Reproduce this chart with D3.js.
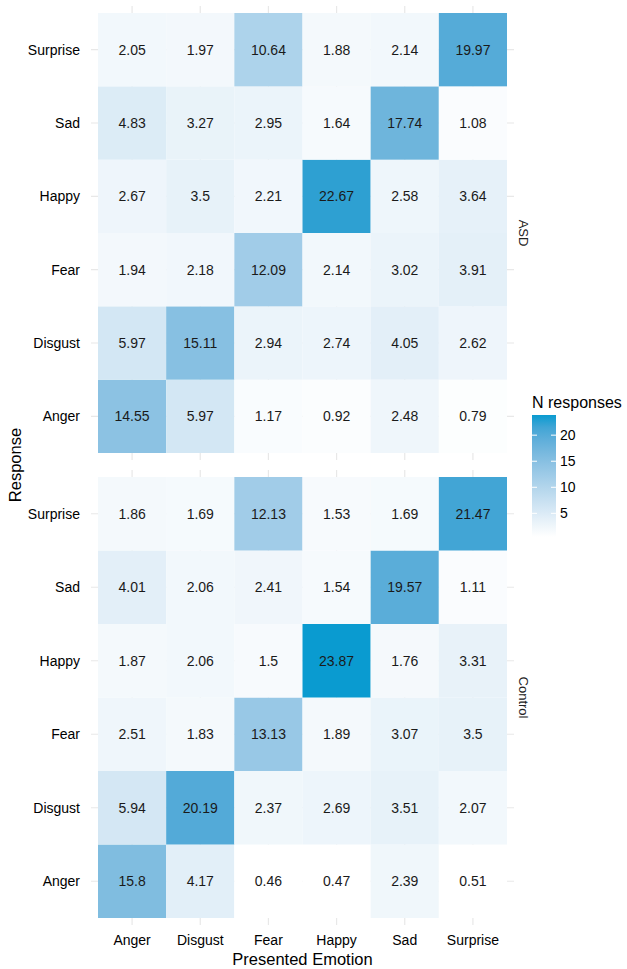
<!DOCTYPE html>
<html>
<head>
<meta charset="utf-8">
<script src="https://cdn.jsdelivr.net/npm/d3@7"></script>
<style>
  body { margin: 0; background: #fff; }
  text { font-family: "Liberation Sans", Arial, sans-serif; }
</style>
</head>
<body>
<svg id="chart" width="627" height="969"></svg>
<script>
// Presented emotion (columns) and response (rows)
const emotions = ["Anger", "Disgust", "Fear", "Happy", "Sad", "Surprise"];
const groups = ["ASD", "Control"];
const legendTicks = [5, 10, 15, 20];

// rows listed by response, values in column order
const asdValues = {
    Anger:    [14.55, 5.97, 1.17, 0.92, 2.48, 0.79],
    Disgust:  [5.97, 15.11, 2.94, 2.74, 4.05, 2.62],
    Fear:     [1.94, 2.18, 12.09, 2.14, 3.02, 3.91],
    Happy:    [2.67, 3.5, 2.21, 22.67, 2.58, 3.64],
    Sad:      [4.83, 3.27, 2.95, 1.64, 17.74, 1.08],
    Surprise: [2.05, 1.97, 10.64, 1.88, 2.14, 19.97]
};
const controlValues = {
    Anger:    [15.8, 4.17, 0.46, 0.47, 2.39, 0.51],
    Disgust:  [5.94, 20.19, 2.37, 2.69, 3.51, 2.07],
    Fear:     [2.51, 1.83, 13.13, 1.89, 3.07, 3.5],
    Happy:    [1.87, 2.06, 1.5, 23.87, 1.76, 3.31],
    Sad:      [4.01, 2.06, 2.41, 1.54, 19.57, 1.11],
    Surprise: [1.86, 1.69, 12.13, 1.53, 1.69, 21.47]
};

// flatten into cells
let cells = [];
[asdValues, controlValues].forEach((tbl, gi) => {
    emotions.forEach(resp => {
        tbl[resp].forEach((v, ci) => {
            cells.push({group: groups[gi], response: resp, presented: emotions[ci], value: v});
        });
    });
});

const svg = d3.select("#chart");
const left = 98, right = 507;
const panels = {ASD: [13, 453], Control: [477, 918]};
const ext = 7; // grid lines show past the tiles

const vmin = d3.min(cells, d => d.value), vmax = d3.max(cells, d => d.value);
const color = d3.scaleLinear()
    .domain([vmin, vmax])
    .range(["#ffffff", "#0a9bd0"])
    .interpolate(d3.interpolateLab);

const x = d3.scaleBand().domain(emotions).range([left, right]);

groups.forEach(g => {
    const [top, bottom] = panels[g];
    // Anger at the bottom, Surprise at top
    const y = d3.scaleBand().domain(emotions.slice().reverse()).range([top, bottom]);
    const p = svg.append("g");

    // grid
    p.selectAll(".vgrid").data(emotions).enter().append("line")
        .attr("x1", d => x(d) + x.bandwidth() / 2)
        .attr("x2", d => x(d) + x.bandwidth() / 2)
        .attr("y1", top - ext).attr("y2", bottom + ext)
        .attr("stroke", "#e8e8e8").attr("stroke-width", 1.2);
    p.selectAll(".hgrid").data(emotions).enter().append("line")
        .attr("y1", d => y(d) + y.bandwidth() / 2)
        .attr("y2", d => y(d) + y.bandwidth() / 2)
        .attr("x1", left - ext).attr("x2", right + ext)
        .attr("stroke", "#e8e8e8").attr("stroke-width", 1.2);

    const data = cells.filter(c => c.group === g);
    p.selectAll("rect").data(data).enter().append("rect")
        .attr("x", d => x(d.presented))
        .attr("y", d => y(d.response))
        .attr("width", x.bandwidth())
        .attr("height", y.bandwidth())
        .attr("fill", d => color(d.value));

    p.selectAll(".val").data(data).enter().append("text")
        .attr("x", d => x(d.presented) + x.bandwidth() / 2)
        .attr("y", d => y(d.response) + y.bandwidth() / 2)
        .attr("dy", "0.36em")
        .attr("text-anchor", "middle")
        .attr("font-size", "14px")
        .attr("fill", "#1a1a1a")
        .text(d => d.value);

    // y tick labels
    p.selectAll(".ylab").data(emotions).enter().append("text")
        .attr("x", 80)
        .attr("y", d => y(d) + y.bandwidth() / 2)
        .attr("dy", "0.36em")
        .attr("text-anchor", "end")
        .attr("font-size", "14px")
        .attr("fill", "#000")
        .text(d => d);

    // facet strip label
    p.append("text")
        .attr("transform", "translate(519," + (top + bottom) / 2 + ") rotate(90)")
        .attr("text-anchor", "middle")
        .attr("font-size", "13px")
        .attr("fill", "#222")
        .text(g);
});

// x tick labels
svg.selectAll(".xlab").data(emotions).enter().append("text")
    .attr("x", d => x(d) + x.bandwidth() / 2)
    .attr("y", 945)
    .attr("text-anchor", "middle")
    .attr("font-size", "14px")
    .attr("fill", "#000")
    .text(d => d);

svg.append("text")
    .attr("x", (left + right) / 2).attr("y", 965)
    .attr("text-anchor", "middle")
    .attr("font-size", "16.5px")
    .text("Presented Emotion");

svg.append("text")
    .attr("transform", "translate(21,465) rotate(-90)")
    .attr("text-anchor", "middle")
    .attr("font-size", "16.5px")
    .text("Response");

// colour bar legend
const lx = 532, lw = 24, ltop = 415, lbot = 537;
const defs = svg.append("defs");
const grad = defs.append("linearGradient").attr("id", "lg")
    .attr("x1", "0").attr("y1", "1").attr("x2", "0").attr("y2", "0");
d3.range(0, 1.0001, 0.1).forEach(t => {
    grad.append("stop").attr("offset", t)
        .attr("stop-color", color(vmin + t * (vmax - vmin)));
});
svg.append("rect")
    .attr("x", lx).attr("y", ltop).attr("width", lw).attr("height", lbot - ltop)
    .attr("fill", "url(#lg)");

const ly = d3.scaleLinear().domain([vmin, vmax]).range([lbot, ltop]);
const lg = svg.append("g");
legendTicks.forEach(t => {
    lg.append("line").attr("x1", lx).attr("x2", lx + 5)
        .attr("y1", ly(t)).attr("y2", ly(t)).attr("stroke", "#fff");
    lg.append("line").attr("x1", lx + lw - 5).attr("x2", lx + lw)
        .attr("y1", ly(t)).attr("y2", ly(t)).attr("stroke", "#fff");
    lg.append("text").attr("x", lx + lw + 4).attr("y", ly(t))
        .attr("dy", "0.36em")
        .attr("font-size", "14px")
        .attr("fill", "#000")
        .text(t);
});
svg.append("text")
    .attr("x", lx).attr("y", 408)
    .attr("font-size", "16px")
    .text("N responses");
</script>
</body>
</html>
